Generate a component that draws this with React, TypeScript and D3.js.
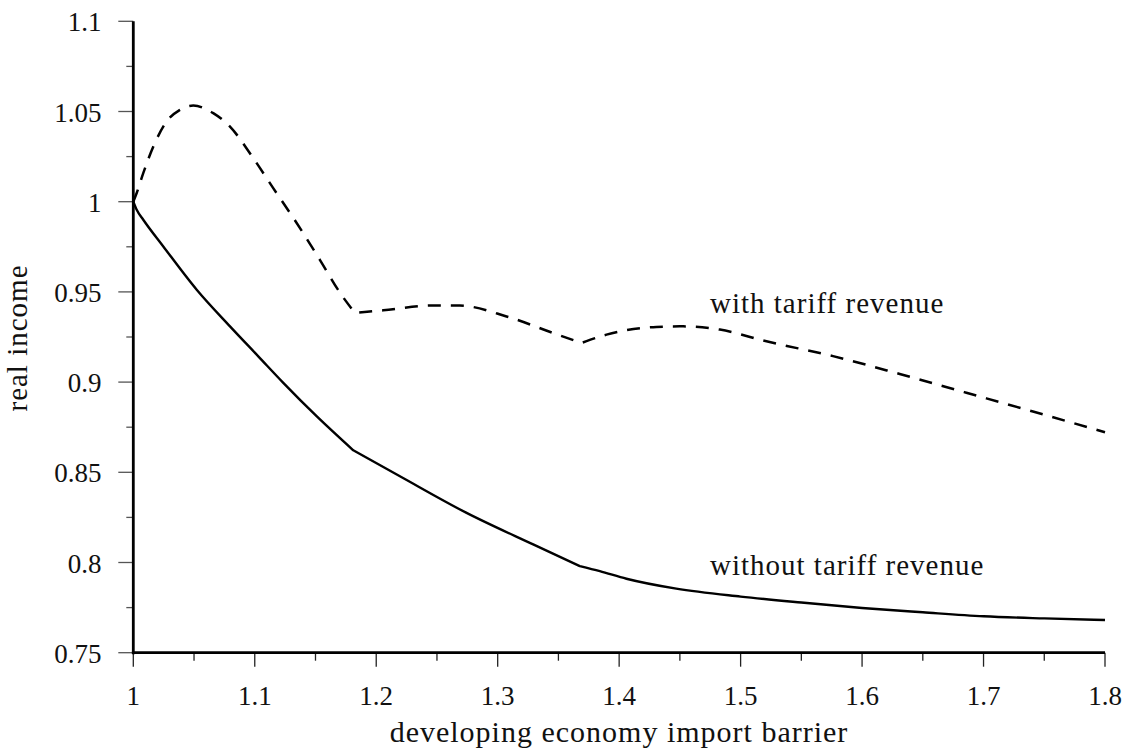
import React from "react";
import * as d3 from "d3";

const xTicks = [1, 1.1, 1.2, 1.3, 1.4, 1.5, 1.6, 1.7, 1.8];
const xMinor = [1.05, 1.15, 1.25, 1.35, 1.45, 1.55, 1.65, 1.75];
const yTicks = [0.75, 0.8, 0.85, 0.9, 0.95, 1, 1.05, 1.1];
const yTickLabels = ["0.75", "0.8", "0.85", "0.9", "0.95", "1", "1.05", "1.1"];
const yMinor = [0.775, 0.825, 0.875, 0.925, 0.975, 1.025, 1.075];

const withoutX = [1, 1.0028, 1.0082, 1.0247, 1.0522, 1.0796, 1.1029, 1.1235, 1.1509, 1.1811, 1.2195, 1.2744, 1.3292, 1.3676, 1.3841, 1.406, 1.447, 1.5, 1.55, 1.6, 1.65, 1.7, 1.75, 1.8];
const withoutY = [1, 0.9955, 0.99, 0.9752, 0.9512, 0.9309, 0.9143, 0.8996, 0.8811, 0.8622, 0.8478, 0.8275, 0.81, 0.798, 0.7952, 0.791, 0.7855, 0.7811, 0.7778, 0.7748, 0.7724, 0.7702, 0.769, 0.7681];
const withoutBreaks = [1.1811, 1.3676];

const withX = [1, 1.0028, 1.0082, 1.0165, 1.0274, 1.0384, 1.0494, 1.0658, 1.0796, 1.0988, 1.1152, 1.1345, 1.1536, 1.1701, 1.1825, 1.2058, 1.2469, 1.2689, 1.3073, 1.3457, 1.369, 1.3896, 1.4307, 1.4527, 1.4829, 1.5213, 1.5761, 1.631, 1.6859, 1.7407, 1.8];
const withY = [1, 1.0048, 1.0158, 1.0306, 1.0444, 1.0509, 1.0533, 1.0491, 1.0416, 1.0241, 1.0075, 0.9882, 0.9678, 0.9496, 0.9383, 0.9398, 0.9425, 0.9424, 0.9364, 0.9272, 0.9217, 0.9263, 0.9306, 0.9309, 0.9291, 0.9226, 0.9144, 0.9045, 0.8941, 0.8837, 0.8722];
const withBreaks = [1.1825, 1.369];

const xTitle = "developing economy import barrier";
const yTitle = "real income";
const labelWith = "with tariff revenue";
const labelWithout = "without tariff revenue";

const W = 1124;
const H = 752;
const FONT = "Liberation Serif, DejaVu Serif, serif";

function splitAt(xs: number[], ys: number[], breaks: number[]) {
  const segs: [number, number][][] = [];
  let cur: [number, number][] = [];
  xs.forEach((v, i) => {
    cur.push([v, ys[i]]);
    if (breaks.includes(v)) {
      segs.push(cur);
      cur = [[v, ys[i]]];
    }
  });
  if (cur.length > 1) segs.push(cur);
  return segs;
}

export default function App() {
  const x = d3.scaleLinear().domain([1, 1.8]).range([133.3, 1105]);
  const y = d3.scaleLinear().domain([0.75, 1.1]).range([652.7, 21.3]);
  const line = d3
    .line<[number, number]>()
    .x((d) => x(d[0]))
    .y((d) => y(d[1]))
    .curve(d3.curveMonotoneX);

  const joinSegs = (segs: [number, number][][]) =>
    segs
      .map((s, i) => {
        const p = line(s) || "";
        if (i === 0) return p;
        const m = p.match(/^M[-\d.e]+,[-\d.e]+(.*)$/);
        return m ? m[1] : p;
      })
      .join("");

  const solidD = joinSegs(splitAt(withoutX, withoutY, withoutBreaks));
  const dashedD = joinSegs(splitAt(withX, withY, withBreaks));
  const x0 = x(1);
  const y0 = y(0.75);
  const textStyle = { fontFamily: FONT };

  return (
    <svg
      width={W}
      height={H}
      style={{ position: "absolute", left: 0, top: 0, background: "#fff", fontFamily: FONT }}
    >
      <rect width={W} height={H} fill="#fff" />
      {yTicks.map((t) => (
        <line key={"ym" + t} x1={x0 - 15} x2={x0} y1={y(t)} y2={y(t)} stroke="#555" strokeWidth={1.3} />
      ))}
      {yMinor.map((t) => (
        <line key={"yn" + t} x1={x0 - 7} x2={x0} y1={y(t)} y2={y(t)} stroke="#555" strokeWidth={1.3} />
      ))}
      {yTicks.map((t, i) => (
        <text key={"yl" + t} x={101.5} y={y(t) + 10} textAnchor="end" fontSize={27} fill="#111" style={textStyle}>
          {yTickLabels[i]}
        </text>
      ))}
      {xTicks.map((t) => (
        <line key={"xm" + t} x1={x(t)} x2={x(t)} y1={y0} y2={y0 + 14} stroke="#222" strokeWidth={1.3} />
      ))}
      {xMinor.map((t) => (
        <line key={"xn" + t} x1={x(t)} x2={x(t)} y1={y0} y2={y0 + 8} stroke="#222" strokeWidth={1.3} />
      ))}
      {xTicks.map((t) => (
        <text key={"xl" + t} x={x(t)} y={705} textAnchor="middle" fontSize={27} fill="#111" style={textStyle}>
          {String(t)}
        </text>
      ))}
      <line x1={x0} x2={x0} y1={y(1.1)} y2={y0 + 1.5} stroke="#000" strokeWidth={2.8} />
      <line x1={x0 - 1.4} x2={x(1.8)} y1={y0} y2={y0} stroke="#000" strokeWidth={2.8} />
      <path d={solidD} fill="none" stroke="#000" strokeWidth={2.4} strokeLinejoin="round" />
      <path d={dashedD} fill="none" stroke="#000" strokeWidth={2.5} strokeDasharray="13,10" />
      <text x={710} y={312.5} fontSize={29} letterSpacing={1} fill="#111" style={textStyle}>
        {labelWith}
      </text>
      <text x={710} y={575} fontSize={29} letterSpacing={1} fill="#111" style={textStyle}>
        {labelWithout}
      </text>
      <text x={619} y={742} textAnchor="middle" fontSize={30} letterSpacing={1} fill="#111" style={textStyle}>
        {xTitle}
      </text>
      <text
        transform={`translate(27,338) rotate(-90)`}
        textAnchor="middle"
        fontSize={29}
        letterSpacing={1}
        fill="#111"
        style={textStyle}
      >
        {yTitle}
      </text>
    </svg>
  );
}
